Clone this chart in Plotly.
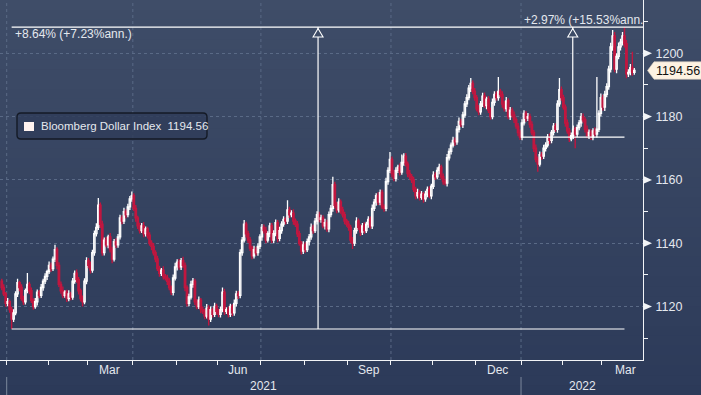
import pandas as pd
import plotly.graph_objects as go

# ---------------- data ----------------
dates = pd.bdate_range("2020-12-29", "2022-03-23") + pd.Timedelta(hours=12)

close = [
    1126, 1124, 1121, 1121.5, 1119, 1116, 1118, 1124, 1127.5, 1126,
    1122.5, 1121.5, 1125, 1127, 1125, 1122, 1120, 1121.5, 1124.5, 1123.5,
    1126, 1128, 1129.5, 1131, 1133, 1132, 1135, 1138, 1133, 1127,
    1125, 1123.5, 1124.5, 1122.5, 1124, 1123, 1128, 1130.5, 1128.5, 1125,
    1122.5, 1121.5, 1128, 1134.5, 1133, 1131.5, 1137, 1143, 1145, 1152,
    1146, 1137, 1141, 1139.5, 1142, 1138, 1135, 1140.5, 1139.5, 1142,
    1148, 1147, 1150, 1149, 1151.5, 1154, 1155, 1151, 1148, 1145.5,
    1144, 1145.5, 1143, 1144.5, 1142.5, 1140, 1139, 1137, 1135, 1132,
    1130.5, 1131.5, 1129.5, 1129, 1128, 1126, 1124.5, 1129, 1132.5, 1134,
    1132.5, 1134.5, 1133, 1126, 1121, 1123, 1127, 1128, 1121.5, 1120,
    1122, 1119, 1118.5, 1117, 1119.5, 1116, 1119, 1117.5, 1120, 1118.5,
    1117.5, 1119, 1124.5, 1118.5, 1119, 1117.5, 1120, 1118, 1121, 1124,
    1123.5, 1137, 1141, 1146, 1143, 1141, 1138.5, 1136, 1138, 1137,
    1139, 1142, 1145, 1144, 1141, 1143, 1145.5, 1141, 1143, 1146.5,
    1141.5, 1144, 1146, 1147.5, 1147, 1150.5, 1149, 1149.5, 1147, 1146,
    1143, 1140, 1137.5, 1139.5, 1138, 1140.5, 1142, 1145, 1144, 1147,
    1149, 1147.5, 1148, 1145.5, 1146.5, 1144.5, 1149, 1151, 1158.5, 1152,
    1150.5, 1153, 1150.5, 1149, 1147, 1146, 1145, 1141, 1140, 1144,
    1147, 1145, 1143.5, 1145.5, 1144, 1146, 1147.5, 1145.5, 1151, 1153,
    1155, 1153, 1156, 1151.5, 1151, 1159.5, 1163, 1166.5, 1162, 1160.5,
    1163, 1164, 1162.5, 1165.5, 1167.5, 1165, 1162, 1161, 1160, 1157,
    1155, 1156, 1154.5, 1155.5, 1154, 1155.5, 1157, 1155, 1158, 1161.5,
    1161, 1163, 1164, 1161, 1159.5, 1159, 1167, 1169, 1171, 1172.5,
    1172, 1176, 1178.5, 1177.5, 1180.5, 1184, 1186, 1189, 1190.5, 1188,
    1186, 1182.5, 1181.5, 1184, 1186.5, 1183.5, 1185.5, 1182, 1180, 1184.5,
    1187, 1186, 1188, 1187, 1184, 1182.5, 1185, 1180, 1182, 1180.5,
    1179, 1177, 1175, 1173.5, 1178, 1181, 1179.5, 1180, 1177.5, 1175,
    1170, 1166.5, 1165, 1168, 1167.5, 1170, 1171, 1173.5, 1172.5, 1175,
    1177, 1176, 1184, 1188.5, 1186, 1183, 1178, 1175.5, 1173, 1174,
    1176, 1174.5, 1176.5, 1178, 1180, 1179, 1176, 1174, 1175, 1173.5,
    1175.5, 1174.5, 1176, 1181, 1186, 1183, 1187, 1189.5, 1195, 1202,
    1205.5, 1195, 1199, 1202, 1203.5, 1205.5, 1203, 1193.5, 1194, 1195.5,
    1194, 1194.56,
]

upper_wick = [
    0.8, 1.0, 0.6, 1.2, 0.7, 0.9, 1.1, 0.8, 1.3, 0.6,
    1.0, 0.9, 0.7, 3.6, 0.8, 1.0, 0.6, 1.2, 0.9, 0.7,
    1.1, 0.8, 1.0, 0.6, 1.2, 0.9, 0.8, 1.5, 0.7, 1.0,
    0.9, 1.3, 0.6, 0.8, 1.1, 0.7, 1.0, 0.9, 1.2, 0.8,
    0.7, 1.0, 0.9, 1.1, 0.8, 1.2, 0.9, 1.0, 1.3, 2.3,
    0.9, 1.1, 0.8, 1.0, 0.7, 1.2, 0.9, 0.8, 1.1, 0.9,
    1.0, 0.8, 1.2, 0.7, 1.0, 0.9, 1.3, 0.8, 1.1, 0.7,
    1.0, 0.9, 1.2, 0.8, 0.7, 1.0, 0.9, 1.1, 0.8, 1.0,
    0.9, 0.7, 1.2, 0.8, 1.0, 0.9, 0.6, 1.1, 1.3, 0.9,
    1.0, 0.8, 1.2, 0.9, 0.7, 1.0, 1.1, 1.0, 0.8, 0.9,
    1.2, 0.7, 1.0, 0.8, 1.3, 0.9, 1.0, 0.7, 1.2, 0.9,
    0.8, 1.0, 1.5, 1.1, 0.8, 1.0, 0.9, 0.7, 1.2, 1.0,
    0.9, 1.1, 1.0, 1.3, 0.8, 0.9, 1.0, 0.7, 1.2, 0.9,
    1.0, 0.8, 1.1, 0.9, 1.2, 0.8, 1.0, 0.9, 1.1, 1.0,
    0.8, 1.2, 0.9, 1.0, 0.7, 3.1, 1.0, 0.9, 1.2, 0.8,
    1.0, 0.9, 0.7, 1.1, 0.8, 1.0, 0.9, 1.2, 0.8, 1.0,
    1.1, 0.9, 1.0, 0.8, 1.2, 0.9, 1.0, 1.1, 2.5, 0.9,
    1.0, 1.2, 0.8, 1.0, 0.9, 0.7, 1.1, 0.8, 1.0, 0.9,
    1.2, 0.8, 1.0, 0.9, 1.1, 0.8, 1.0, 0.9, 1.2, 1.0,
    0.8, 1.1, 1.0, 0.9, 0.8, 1.2, 1.0, 2.3, 0.9, 1.1,
    1.0, 0.8, 1.2, 2.5, 0.9, 1.0, 0.8, 1.1, 0.9, 1.0,
    0.8, 1.2, 0.9, 1.0, 0.7, 1.1, 0.9, 1.0, 0.8, 1.2,
    0.9, 1.0, 1.1, 0.8, 1.0, 0.9, 1.2, 1.0, 0.8, 1.1,
    0.9, 1.0, 1.2, 0.8, 1.0, 0.9, 1.1, 1.0, 1.7, 0.9,
    1.0, 0.8, 1.2, 0.9, 1.0, 1.1, 0.8, 1.0, 0.9, 1.2,
    1.0, 0.9, 4.5, 0.8, 1.0, 0.9, 1.2, 0.8, 1.0, 0.9,
    1.1, 0.8, 1.0, 0.9, 1.2, 1.0, 0.8, 1.1, 0.9, 1.0,
    0.8, 1.2, 0.9, 1.0, 0.8, 1.1, 0.9, 1.0, 1.2, 0.8,
    1.0, 0.9, 1.2, 3.7, 1.0, 0.9, 0.8, 1.1, 0.9, 1.0,
    1.2, 0.8, 1.0, 0.9, 1.1, 1.0, 0.8, 1.2, 0.9, 1.0,
    0.8, 1.1, 16.5, 1.0, 1.3, 0.9, 1.2, 1.0, 1.1, 1.3,
    1.9, 1.2, 1.0, 1.4, 1.1, 1.2, 2.8, 1.2, 1.0, 1.1,
    5.0, 0.8,
]

lower_wick = [
    0.9, 0.7, 1.1, 0.8, 1.0, 3.1, 0.9, 0.8, 1.0, 1.2,
    0.7, 1.0, 0.9, 0.8, 1.1, 0.9, 1.0, 0.7, 1.2, 0.9,
    0.8, 1.0, 0.9, 1.1, 0.7, 1.0, 0.8, 0.9, 1.2, 0.8,
    1.0, 0.9, 0.7, 1.1, 0.8, 1.0, 0.9, 0.8, 1.0, 1.2,
    0.9, 1.5, 0.8, 1.0, 0.9, 1.1, 0.8, 1.0, 0.9, 0.8,
    1.2, 1.0, 0.9, 0.8, 1.1, 0.9, 1.3, 0.8, 1.0, 0.9,
    0.8, 1.0, 0.9, 1.1, 0.8, 1.0, 0.9, 0.8, 1.2, 1.0,
    0.9, 0.8, 1.1, 0.9, 1.0, 0.8, 1.2, 0.9, 1.0, 0.8,
    1.1, 0.9, 1.0, 0.8, 1.2, 0.9, 0.9, 1.0, 0.8, 1.1,
    0.9, 1.0, 0.8, 1.2, 1.0, 0.9, 0.8, 1.1, 1.0, 0.9,
    0.8, 1.1, 0.9, 1.0, 0.8, 2.0, 0.9, 1.0, 0.8, 1.1,
    0.9, 1.0, 0.8, 1.2, 0.9, 1.0, 0.8, 1.1, 0.9, 1.0,
    1.1, 0.9, 1.0, 0.8, 1.2, 0.9, 1.0, 1.1, 0.8, 0.9,
    1.0, 0.8, 1.2, 0.9, 1.0, 0.8, 1.1, 0.9, 1.0, 0.8,
    1.2, 0.9, 1.0, 0.8, 1.1, 0.9, 1.0, 0.8, 1.2, 0.9,
    1.0, 0.8, 1.1, 0.9, 1.0, 0.8, 1.2, 0.9, 1.0, 0.8,
    1.1, 0.9, 1.0, 0.8, 1.2, 0.9, 1.0, 0.8, 1.1, 0.9,
    1.0, 0.8, 1.2, 0.9, 1.0, 0.8, 1.1, 0.9, 1.8, 0.9,
    1.0, 0.8, 1.2, 0.9, 1.0, 0.8, 1.1, 0.9, 1.0, 0.8,
    1.2, 0.9, 1.0, 0.8, 1.1, 0.9, 1.0, 0.8, 1.2, 0.9,
    1.0, 0.8, 1.1, 0.9, 1.0, 0.8, 1.2, 0.9, 1.0, 0.8,
    1.1, 0.9, 1.0, 0.8, 1.2, 0.9, 1.0, 0.8, 1.1, 0.9,
    1.0, 0.8, 1.2, 0.9, 1.0, 0.8, 1.1, 0.9, 1.0, 0.8,
    1.2, 0.9, 1.0, 0.8, 1.1, 0.9, 1.0, 0.8, 1.2, 0.9,
    1.0, 0.8, 1.1, 0.9, 1.0, 0.8, 1.2, 0.9, 1.0, 0.8,
    1.1, 0.9, 1.0, 0.8, 1.2, 0.9, 1.0, 0.8, 1.1, 0.9,
    1.0, 0.8, 1.2, 0.9, 1.0, 0.8, 1.1, 0.9, 1.0, 0.8,
    1.2, 0.9, 2.4, 0.8, 1.1, 0.9, 1.0, 0.8, 1.2, 0.9,
    1.0, 0.8, 1.1, 0.9, 1.0, 0.8, 1.2, 0.9, 1.0, 0.8,
    1.1, 4.5, 1.0, 0.8, 1.2, 0.9, 1.0, 0.8, 1.1, 0.9,
    1.0, 0.8, 1.2, 0.9, 1.0, 1.1, 1.2, 0.9, 1.0, 1.1,
    1.2, 1.0, 1.3, 0.9, 1.1, 1.0, 1.2, 1.4, 1.0, 0.9,
    1.1, 0.8,
]

first_open = 1128.0

series_name = "Bloomberg Dollar Index"
y_ticks = [1120, 1140, 1160, 1180, 1200]
y_minor_ticks = [1110, 1130, 1150, 1170, 1190, 1210]
month_starts = ["2021-01-01", "2021-02-01", "2021-03-01", "2021-04-01", "2021-05-03",
                "2021-06-01", "2021-07-01", "2021-08-02", "2021-09-01", "2021-10-01",
                "2021-11-01", "2021-12-01", "2022-01-03", "2022-02-01", "2022-03-01"]
quarter_starts = ["2021-01-01", "2021-04-01", "2021-07-01", "2021-10-01", "2022-01-03"]
month_labels = ["Mar", "Jun", "Sep", "Dec", "Mar"]
month_label_dates = ["2021-03-16", "2021-06-15", "2021-09-16", "2021-12-16", "2022-03-17"]
year_labels = ["2021", "2022"]
year_label_dates = ["2021-07-02 12:00", "2022-02-15"]
year_starts = ["2021-01-01", "2022-01-03"]
measure_texts = ["+8.64% (+7.23%ann.)", "+2.97% (+15.53%ann."]

n = len(dates)
if not (len(close) == n and len(upper_wick) == n and len(lower_wick) == n):
    raise SystemExit(f"length mismatch {n} {len(close)} {len(upper_wick)} {len(lower_wick)}")

opens = [first_open] + close[:-1]
highs = [max(o, c) + u for o, c, u in zip(opens, close, upper_wick)]
lows = [min(o, c) - w for o, c, w in zip(opens, close, lower_wick)]

# ---------------- style ----------------
W, H = 701, 395
ML, MR, MT, MB = 0, 58, 0, 35
PW, PH = W - ML - MR, H - MT - MB
FONT = "Liberation Sans"
TXT = "#e4e8ee"
WHITE = "#f2f4f7"
GRID = "#5a6a86"
RED = "#c0163f"
BG_TOP = (63, 77, 104)
BG_BOT = (44, 58, 89)
x_range = ["2020-12-28 14:24", "2022-03-29 21:36"]
y_range = [1103.1, 1216.84]


def mix(c1, c2, t):
    return "rgb(%d,%d,%d)" % tuple(round(a + (b - a) * t) for a, b in zip(c1, c2))


fig = go.Figure()
fig.add_trace(go.Candlestick(
    x=dates, open=opens, high=highs, low=lows, close=close,
    name=series_name, showlegend=False, whiskerwidth=0,
    increasing=dict(line=dict(color="#ffffff", width=1.3), fillcolor="rgba(0,0,0,0)"),
    decreasing=dict(line=dict(color=RED, width=1.4), fillcolor=RED),
    hoverinfo="skip",
))

shapes = []
# background gradient
N = 40
y_bot = -MB / PH
for k in range(N):
    y0 = y_bot + (1 - y_bot) * k / N
    y1 = y_bot + (1 - y_bot) * (k + 1) / N + 0.002
    shapes.append(dict(type="rect", xref="paper", yref="paper", x0=-0.01, x1=W / PW + 0.01,
                       y0=y0, y1=y1, fillcolor=mix(BG_BOT, BG_TOP, (k + 0.5) / N),
                       line=dict(width=0), layer="below"))
# vertical grid
for d in quarter_starts:
    shapes.append(dict(type="line", xref="x", yref="paper", x0=d, x1=d, y0=0, y1=1,
                       line=dict(color=GRID, width=1, dash="3px,3px"), layer="below"))
# year separators
for d in year_starts:
    shapes.append(dict(type="line", xref="x", yref="paper", x0=d, x1=d,
                       y0=-17 / PH, y1=-MB / PH, line=dict(color="#7c889c", width=1)))

# measurement annotations
lo_i = min(range(n), key=lambda i: lows[i])
hi_i = max(range(n), key=lambda i: highs[i])
lo_v, hi_v = lows[lo_i], highs[hi_i]
end_d = dates[hi_i]
mid1 = dates[(lo_i + hi_i) // 2] + pd.Timedelta(days=((lo_i + hi_i) / 2) - (lo_i + hi_i) // 2)
ytd_i = 264
ytd_v = close[ytd_i - 1]
ytd_start = dates[ytd_i] - pd.Timedelta(hours=12)
mid2_f = ((ytd_i - 0.5) + hi_i) / 2
mid2 = dates[int(mid2_f)] + pd.Timedelta(days=mid2_f - int(mid2_f))

LW = dict(color="#ffffff", width=1.2)
shapes += [
    dict(type="line", xref="x", yref="y", x0=dates[lo_i], x1=end_d, y0=lo_v, y1=lo_v, line=LW),
    dict(type="line", xref="x", yref="y", x0=dates[lo_i], x1=x_range[1], y0=hi_v, y1=hi_v, line=LW),
    dict(type="line", xref="x", yref="y", x0=mid1, x1=mid1, y0=lo_v, y1=hi_v, line=LW),
    dict(type="line", xref="x", yref="y", x0=ytd_start, x1=end_d, y0=ytd_v, y1=ytd_v, line=LW),
    dict(type="line", xref="x", yref="y", x0=mid2, x1=mid2, y0=ytd_v, y1=hi_v, line=LW),
]
for m in (mid1, mid2):
    shapes.append(dict(type="path", xref="x", yref="y", xsizemode="pixel", ysizemode="pixel",
                       xanchor=m, yanchor=hi_v, path="M -5,-10 L 0,-1.5 L 5,-10 Z",
                       fillcolor="rgb(61,75,102)", line=dict(color="#ffffff", width=1.1)))

# y tick triangles
for v in y_ticks:
    shapes.append(dict(type="path", xref="paper", yref="y", xsizemode="pixel", ysizemode="pixel",
                       xanchor=1, yanchor=v, path="M 1,3.6 L 9,0 L 1,-3.6 Z",
                       fillcolor=WHITE, line=dict(width=0)))

# last price tag
last_v = close[-1]
shapes.append(dict(type="path", xref="paper", yref="y", xsizemode="pixel", ysizemode="pixel",
                   xanchor=1, yanchor=last_v,
                   path="M 4.5,0 L 11,8.7 L 62,8.7 L 62,-8.7 L 11,-8.7 Z",
                   fillcolor="#fdf2e2", line=dict(color="#d8cfc0", width=0.6)))

# legend box
shapes.append(dict(type="path", xref="paper", yref="paper", xsizemode="pixel", ysizemode="pixel",
                   xanchor=0, yanchor=1,
                   path="M 21,-113 L 203,-113 Q 207,-113 207,-117 L 207,-135 Q 207,-139 203,-139 "
                        "L 21,-139 Q 17,-139 17,-135 L 17,-117 Q 17,-113 21,-113 Z",
                   fillcolor="rgba(48,61,89,0.85)", line=dict(color="#141a26", width=1.4)))
shapes.append(dict(type="rect", xref="paper", yref="paper", xsizemode="pixel", ysizemode="pixel",
                   xanchor=0, yanchor=1, x0=24, x1=34, y0=-122, y1=-131,
                   fillcolor="#fff3ef", line=dict(width=0)))

annotations = []
for t, d in zip(month_labels, month_label_dates):
    annotations.append(dict(text=t, x=d, xref="x", y=-10 / PH, yref="paper", showarrow=False,
                            xanchor="center", yanchor="middle", font=dict(family=FONT, size=12, color=TXT)))
for t, d in zip(year_labels, year_label_dates):
    annotations.append(dict(text=t, x=d, xref="x", y=-26 / PH, yref="paper", showarrow=False,
                            xanchor="center", yanchor="middle", font=dict(family=FONT, size=12, color=TXT)))
annotations.append(dict(text=measure_texts[0], x=dates[lo_i], xref="x", y=hi_v, yref="y",
                        xanchor="left", yanchor="middle", xshift=1, yshift=-7, showarrow=False,
                        font=dict(family=FONT, size=12, color=TXT)))
annotations.append(dict(text=measure_texts[1], x=ytd_start, xref="x", y=hi_v, yref="y",
                        xanchor="left", yanchor="middle", xshift=1, yshift=7, showarrow=False,
                        font=dict(family=FONT, size=12, color=TXT)))
annotations.append(dict(text=f"{last_v:.2f}", x=1, xref="paper", y=last_v, yref="y",
                        xanchor="left", yanchor="middle", xshift=11, showarrow=False,
                        font=dict(family=FONT, size=12.5, color="#111111")))
annotations.append(dict(text=f"{series_name}\u00a0\u00a0{last_v:.2f}", x=39 / PW, xref="paper",
                        y=1 - 126 / PH, yref="paper", xanchor="left", yanchor="middle", showarrow=False,
                        font=dict(family=FONT, size=11.5, color=TXT)))

fig.update_layout(
    width=W, height=H, margin=dict(l=ML, r=MR, t=MT, b=MB),
    paper_bgcolor="rgb(50,64,94)", plot_bgcolor="rgba(0,0,0,0)",
    showlegend=False, shapes=shapes, annotations=annotations,
    font=dict(family=FONT, color=TXT), boxgap=0,
    xaxis=dict(type="date", range=x_range, rangebreaks=[dict(bounds=["sat", "mon"])],
               rangeslider=dict(visible=False), tickvals=month_starts, ticks="outside",
               ticklen=4, tickcolor=WHITE, showticklabels=False, showgrid=False,
               showline=True, linecolor=WHITE, linewidth=1, zeroline=False, fixedrange=True),
    yaxis=dict(side="right", range=y_range, tickvals=y_ticks, ticktext=[str(v) for v in y_ticks],
               ticks="outside", ticklen=9, tickcolor="rgba(0,0,0,0)",
               tickfont=dict(family=FONT, size=12.5, color=TXT),
               showgrid=True, gridcolor=GRID, griddash="3px,3px", gridwidth=1,
               showline=True, linecolor=WHITE, linewidth=1, zeroline=False,
               minor=dict(tickvals=y_minor_ticks, ticks="outside", ticklen=4, tickcolor=WHITE,
                          showgrid=False)),
)

fig.write_html("out.html", config={"displayModeBar": False},
               post_script="document.body.style.margin='0px';document.body.style.overflow='hidden';")
